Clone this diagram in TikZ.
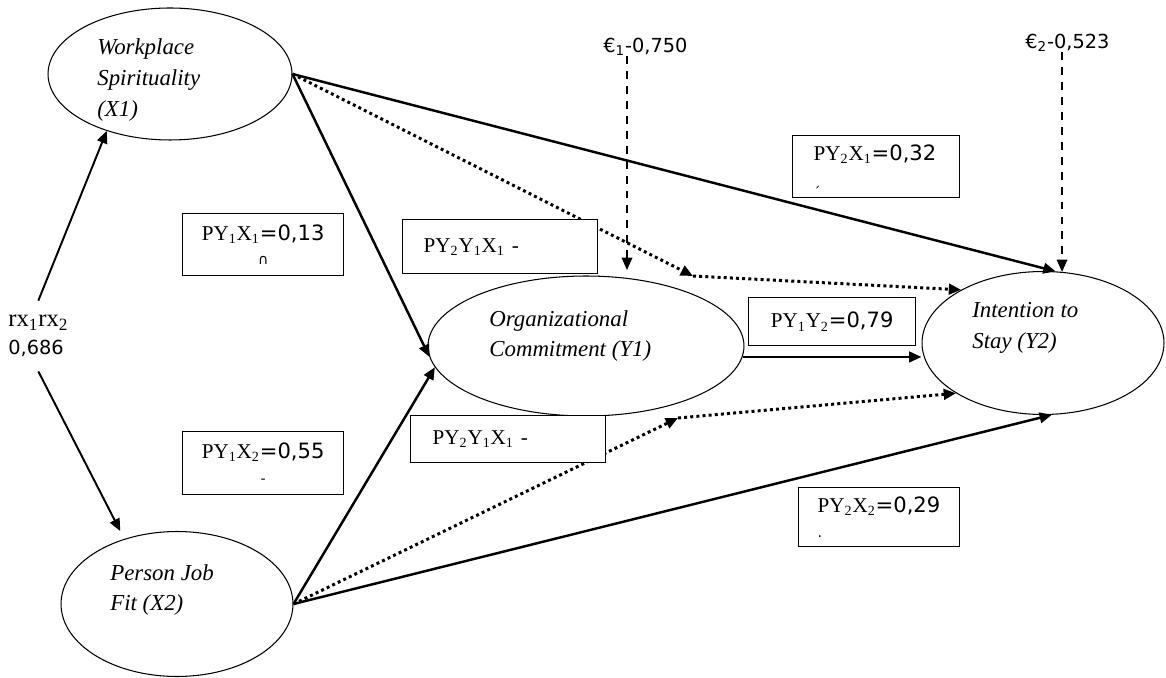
\documentclass[tikz,border=0pt]{standalone}
\usepackage{fontspec}
\setmainfont{Liberation Serif}
\newfontfamily\numfnt{DejaVu Sans}
\newcommand\cutfnt{\numfnt\fontsize{8}{9}\selectfont}
\usetikzlibrary{arrows.meta,shapes.geometric}

\begin{document}
\begin{tikzpicture}[x=0.02cm,y=-0.02cm,>={Triangle[length=7pt,width=6pt]}]
\tikzset{
  latent/.style={draw,ellipse,line width=0.6pt,inner sep=0pt},
  vname/.style={anchor=west,align=left,inner sep=0pt,font=\fontsize{13}{17.5}\selectfont\itshape},
  coef/.style={draw,fill=white,line width=0.8pt,anchor=north west,inner ysep=0pt,font=\fontsize{12}{14}\selectfont},
  lcoef/.style={coef,align=left,inner xsep=#1},
  ccoef/.style={coef,align=center,inner xsep=0pt},
  errlbl/.style={anchor=west,inner sep=0pt,font=\numfnt\fontsize{11}{13}\selectfont},
  eff/.style={->,line width=1.4pt},
  ind/.style={->,line width=1.7pt,dash pattern=on 1.7pt off 1.8pt},
  err/.style={->,line width=0.9pt,dash pattern=on 4.5pt off 4pt},
  corrl/.style={->,line width=1.1pt}
}
\useasboundingbox (0,0) rectangle (1166,678);

% variables
\node[latent,minimum width=4.88cm,minimum height=2.64cm] (ws) at (170,74) {};
\node[vname] (ws-txt) at (97,80) {Workplace\\Spirituality\\(X1)};
\node[latent,minimum width=4.64cm,minimum height=2.9cm] (pjf) at (177,604) {};
\node[vname] (pjf-txt) at (110,590) {Person Job\\Fit (X2)};
\node[latent,minimum width=6.32cm,minimum height=2.8cm] (oc) at (586,346) {};
\node[vname] (oc-txt) at (489,336) {Organizational\\Commitment (Y1)};
\node[latent,minimum width=4.84cm,minimum height=2.86cm] (its) at (1043,343) {};
\node[vname] (its-txt) at (972,328) {Intention to\\Stay (Y2)};

% residuals and correlation
\node[errlbl] (e1) at (603,47) {€\textsubscript{1}-0,750};
\node[errlbl] (e2) at (1025,43) {€\textsubscript{2}-0,523};
\node[anchor=west,align=left,inner xsep=0pt,inner ysep=8pt,font=\fontsize{14}{16}\selectfont] (corr) at (8,336)
  {rx\textsubscript{1}rx\textsubscript{2}\\{\numfnt\fontsize{11}{16}\selectfont 0,686}};

\coordinate (e1end) at (627,270);
\coordinate (m1) at (693,276);
\coordinate (m2) at (678,418);

\draw[err] (e1.south -| e1end) -- (e1end);
\draw[err] (e2.south -| its.75) -- (its.75);
\draw[corrl] (corr.north) -- (ws.222);
\draw[corrl,shorten >=5pt] (corr.south) -- (pjf.129);

% direct paths
\draw[eff] (ws.east) -- (oc.184);
\draw[eff] (pjf.east) -- (oc.188);
\draw[eff] (ws.east) -- (its.80);
\draw[eff] (pjf.east) -- (its.277);
\draw[eff] (oc.-4) -- (oc.-4 -| its.west);

% indirect paths
\draw[ind] (ws.east) -- (m1);
\draw[ind] (m1) -- (its.147);
\draw[ind] (pjf.east) -- (m2);
\draw[ind] (m2) -- (its.210);

% coefficients
\node[lcoef=0.42cm,text width=2.5cm,minimum height=1.24cm] (p21) at (792,135)
  {PY\textsubscript{2}X\textsubscript{1}{\numfnt=0,32}\\{\cutfnt ˏ}};
\node[ccoef,text width=3.22cm,minimum height=1.24cm] (p11) at (182,213)
  {PY\textsubscript{1}X\textsubscript{1}{\numfnt=0,13}\\{\cutfnt ∩}};
\node[lcoef=0.42cm,text width=3.06cm,minimum height=1.08cm] (p2y1a) at (402,219)
  {PY\textsubscript{2}Y\textsubscript{1}X\textsubscript{1} -};
\node[ccoef,text width=3.34cm,minimum height=0.96cm] (p1y2) at (748,297)
  {PY\textsubscript{1}Y\textsubscript{2}{\numfnt=0,79}};
\node[lcoef=0.44cm,text width=3.02cm,minimum height=0.94cm] (p2y1b) at (410,415)
  {PY\textsubscript{2}Y\textsubscript{1}X\textsubscript{1} -};
\node[ccoef,text width=3.22cm,minimum height=1.26cm] (p12) at (182,431)
  {PY\textsubscript{1}X\textsubscript{2}{\numfnt=0,55}\\{\cutfnt -}};
\node[lcoef=0.38cm,text width=2.46cm,minimum height=1.18cm] (p22) at (798,487)
  {PY\textsubscript{2}X\textsubscript{2}{\numfnt=0,29}\\{\cutfnt .}};
\end{tikzpicture}
\end{document}
